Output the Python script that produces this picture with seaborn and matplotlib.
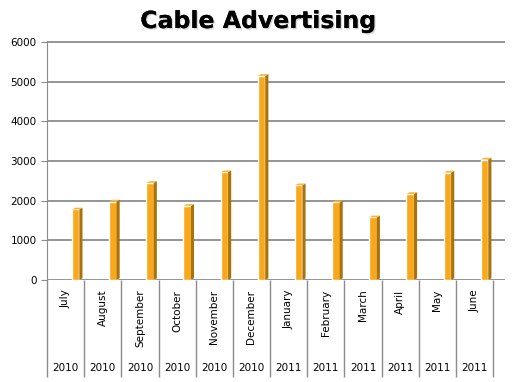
import pandas as pd
import seaborn as sns
import matplotlib.pyplot as plt
import matplotlib.patheffects as pe
from matplotlib.patches import Polygon

months = ['July', 'August', 'September', 'October', 'November', 'December',
          'January', 'February', 'March', 'April', 'May', 'June']
years = ['2010', '2010', '2010', '2010', '2010', '2010',
         '2011', '2011', '2011', '2011', '2011', '2011']
spend = [1780, 1980, 2450, 1870, 2720, 5150, 2390, 1960, 1580, 2170, 2710, 3040]

df = pd.DataFrame({'month': months, 'spend': spend})

sns.set_style('white')
plt.rcParams['text.color'] = 'black'
plt.rcParams['xtick.color'] = 'black'
plt.rcParams['ytick.color'] = 'black'

fig = plt.figure(figsize=(5.27, 3.82), dpi=100)
ax = fig.add_axes([47/527, 1-280/382, (505-47)/527, (280-41)/382])

sns.barplot(data=df, x='month', y='spend', color='#F9A71B', saturation=1,
            width=0.2, ax=ax, zorder=3)

# fake excel 3d look: shift bars right and add a dark side and light top
dx, dy = 0.085, 45
for p in ax.patches:
    p.set_x(p.get_x() + 0.27)
    x0, w, h = p.get_x(), p.get_width(), p.get_height()
    side = Polygon([(x0 + w, 0), (x0 + w + dx, dy), (x0 + w + dx, h + dy), (x0 + w, h)],
                   closed=True, fc='#A8720C', ec='none', zorder=3)
    top = Polygon([(x0, h), (x0 + dx, h + dy), (x0 + w + dx, h + dy), (x0 + w, h)],
                  closed=True, fc='#FBB840', ec='none', zorder=3)
    ax.add_patch(side)
    ax.add_patch(top)

ax.set_xlim(-0.5, 11.82)
ax.set_ylim(0, 6030)
ax.set_yticks(range(0, 7000, 1000))
ax.yaxis.grid(True, color='#8c8c8c', lw=1.3)
ax.set_axisbelow(True)
for s in ['top', 'right', 'bottom']:
    ax.spines[s].set_visible(False)
ax.spines['left'].set_color('#8c8c8c')
ax.set_xlabel('')
ax.set_ylabel('')

ax.tick_params(axis='y', length=4, color='#8c8c8c', labelcolor='black', labelsize=7.5,
               direction='out', left=True)
ax.set_xticks(range(12))
ax.set_xticklabels(months, rotation=90, va='top', fontsize=7.5)
ax.tick_params(axis='x', which='major', length=0, pad=7, labelcolor='black')
ax.set_xticks([i - 0.5 for i in range(13)], minor=True)
ax.tick_params(axis='x', which='minor', length=70, color='#8c8c8c', width=1,
               direction='out', bottom=True)

for i, yr in enumerate(years):
    ax.text(i, -0.37, yr, transform=ax.get_xaxis_transform(), ha='center', va='center',
            fontsize=7.5, color='black')

fig.text(0.49, 0.945, 'Cable Advertising', ha='center', va='center', fontsize=17,
         fontweight='bold', color='black',
         path_effects=[pe.withSimplePatchShadow(offset=(1, -1), shadow_rgbFace='#999999', alpha=0.4),
                       pe.Normal()])

fig.savefig('out.png', dpi=100)
